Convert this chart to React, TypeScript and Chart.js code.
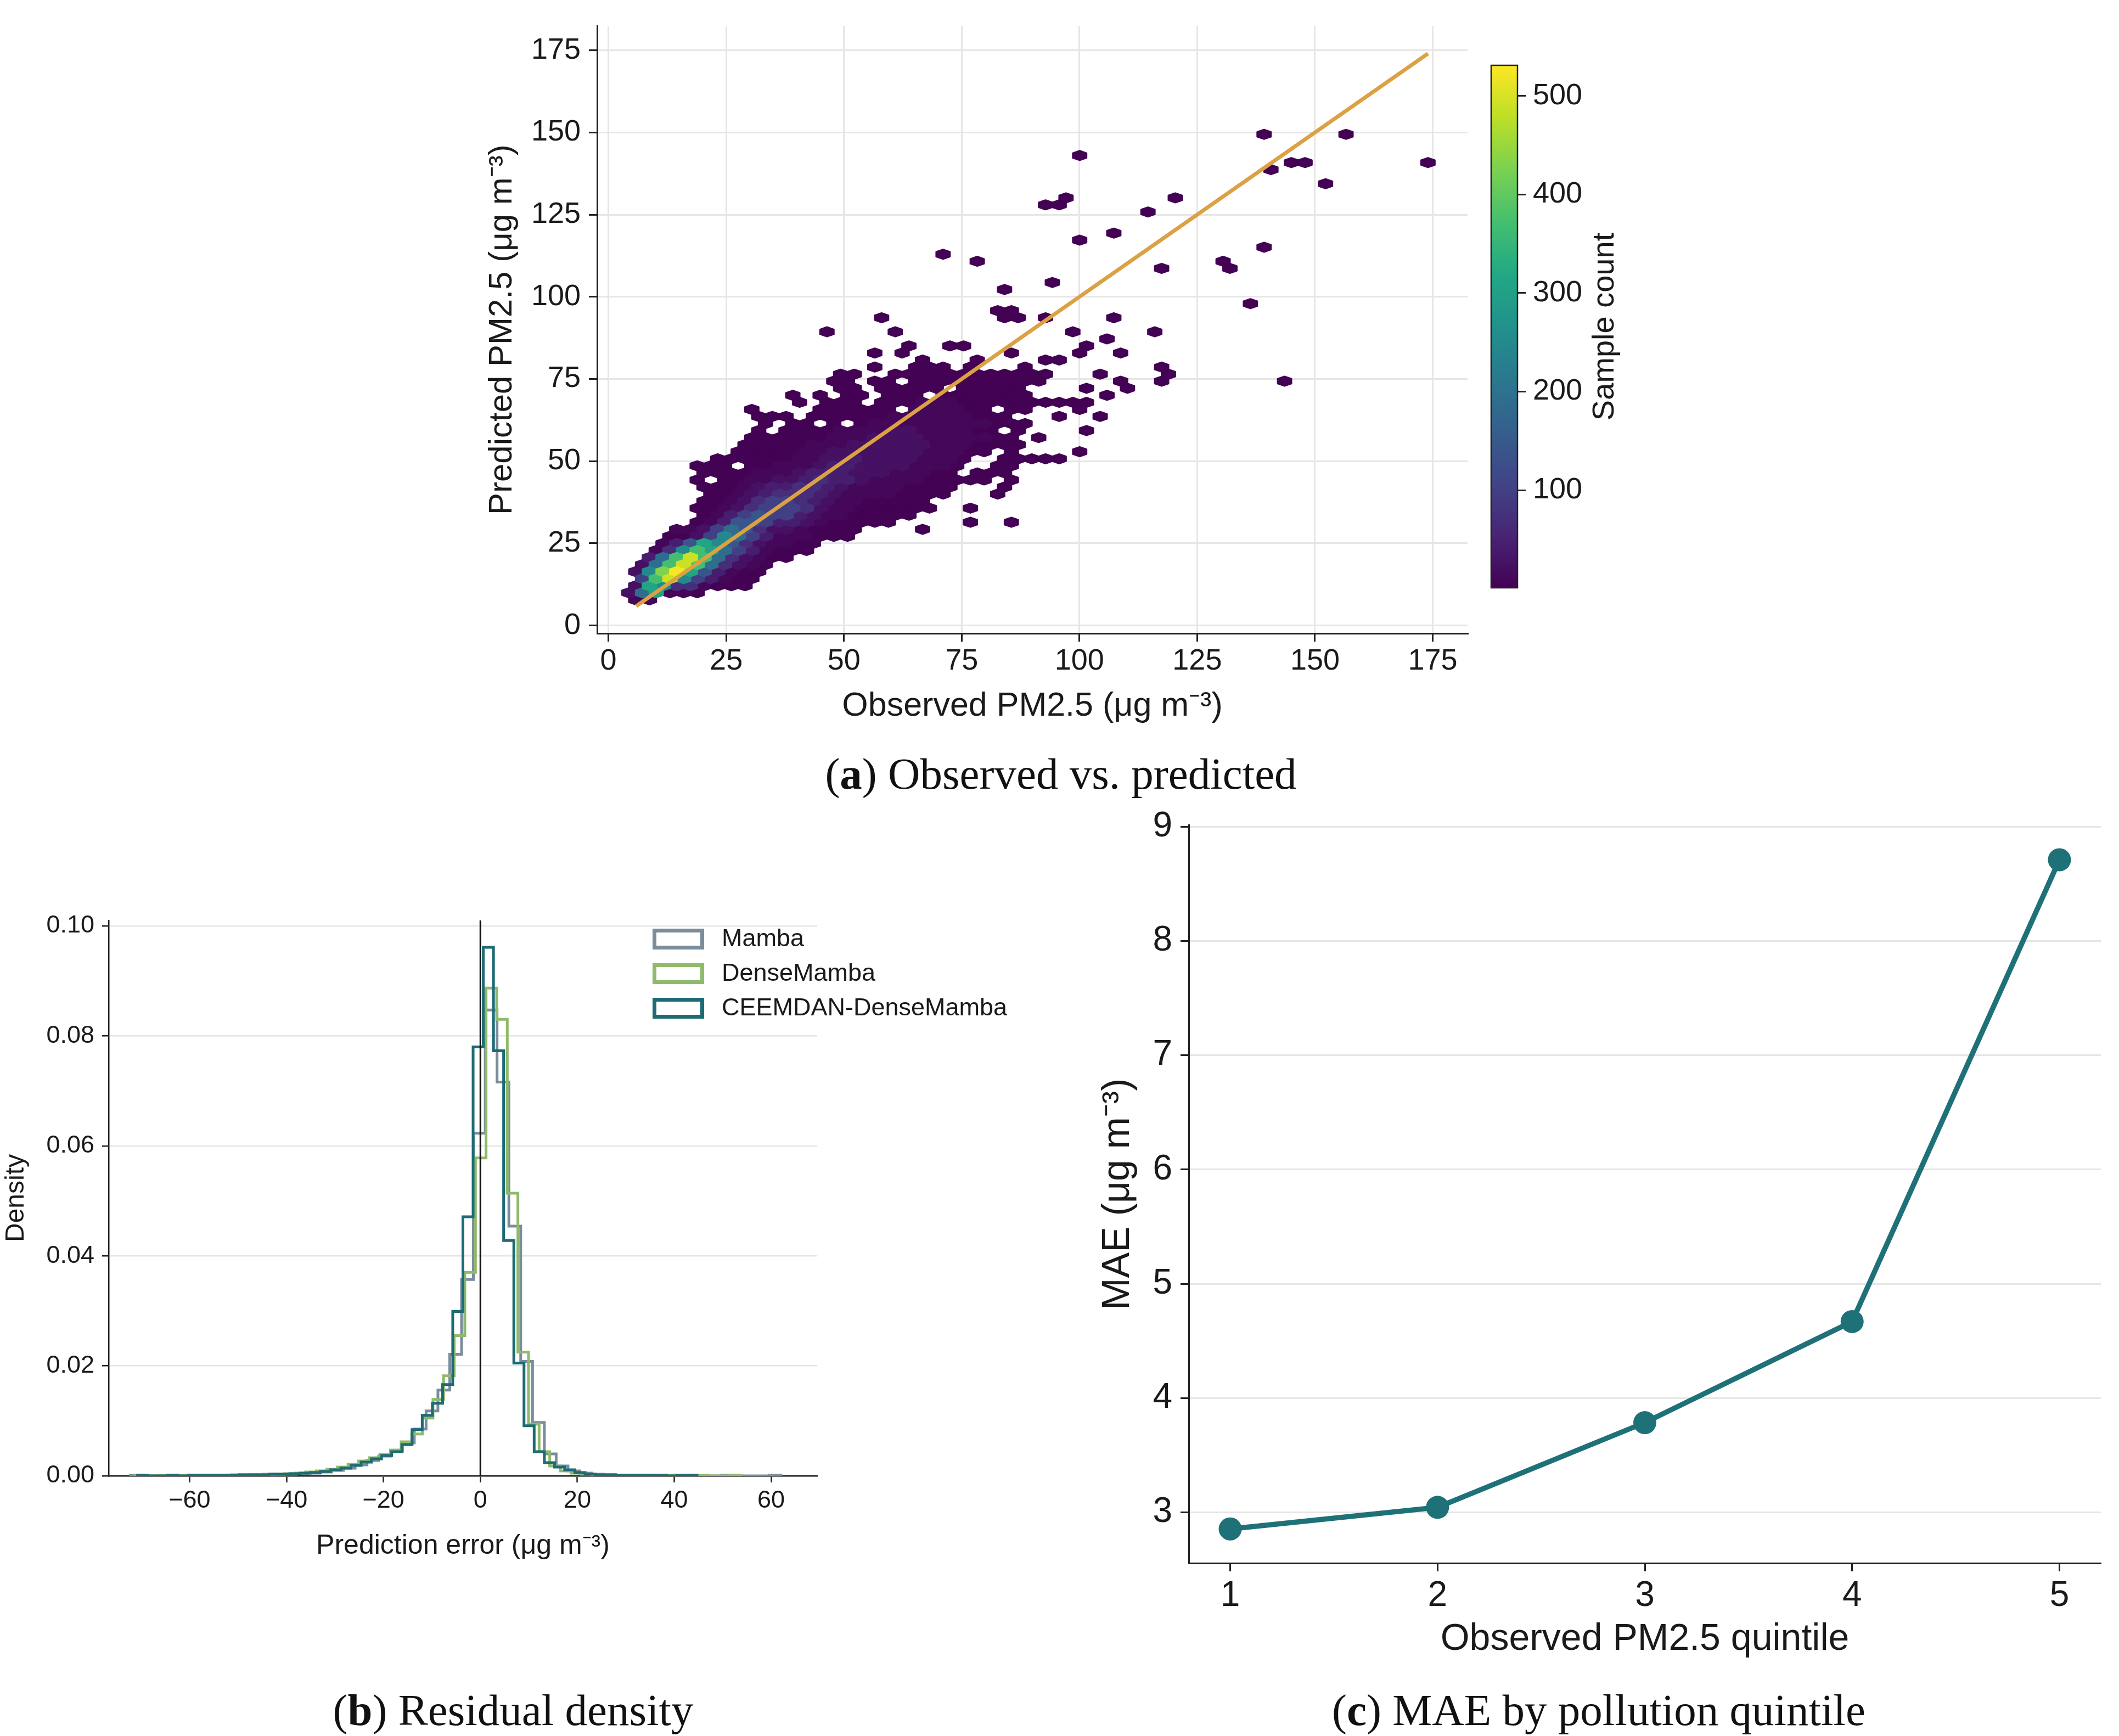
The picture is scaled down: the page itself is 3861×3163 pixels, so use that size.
import React, { useEffect, useRef } from "react";
import { Chart, registerables } from "chart.js";

Chart.register(...registerables);

// ---------------- Panel (a): hexbin of observed vs predicted ----------------
const A_TICKS = [0, 25, 50, 75, 100, 125, 150, 175];
const A_MIN = -2.4;
const A_MAX = 182.4;
const DIAG_RANGE = [5.9, 174];
// hex lattice (data units): even rows at HEX_DX * n, odd rows shifted by half a column
const HEX_X0 = 0;
const HEX_DX = 2.9;
const HEX_Y0 = 7.8;
const HEX_DY = 2.146;
// level code -> sample count per hexagon
const LEVEL_CODES = "123456789ABCDE";
const LEVEL_COUNTS = [2, 10, 25, 45, 70, 100, 140, 190, 250, 310, 370, 430, 490, 525];
// [row j, first column n, level string ('.' = empty)]
const HEX_ROWS: [number, number, string][] = [
  [0, 2, "22"],
  [1, 1, "38A221"],
  [2, 2, "3A9552111"],
  [3, 2, "6BD964211"],
  [4, 2, "39CEA74211"],
  [5, 2, "38BDB85321"],
  [6, 3, "48BDB853211"],
  [7, 3, "259BA8642111"],
  [8, 4, "247A97532211"],
  [9, 4, "11369864222111"],
  [10, 5, "22368753321111....1"],
  [11, 6, "124776443211111.....1..1"],
  [12, 7, "1246766432211111"],
  [13, 6, "112356665322111111..1"],
  [14, 7, "11235665432211111"],
  [15, 7, "112345554322221111...1"],
  [16, 7, "1112344554322221111...1"],
  [17, 6, "1.11223345443222211111.1"],
  [18, 7, "1111222344433322211.111"],
  [19, 6, "111.1122234433332221..11"],
  [20, 8, "1111112233433332221..11111"],
  [21, 9, "1111122333333322211.1....1"],
  [22, 10, "111112223333332221111"],
  [23, 10, "11111122233332222211.1"],
  [24, 11, "1.1111222233222211.1....1"],
  [25, 11, "1.11.1.1222222222111"],
  [26, 11, "111.111111222222111...1..1"],
  [27, 10, "1....111111.222211.11...1"],
  [28, 14, "1.111.1112221111111111"],
  [29, 13, "1.1.11.111.1111111.....1"],
  [30, 17, "11.11111.11111....1..1"],
  [31, 16, "11.11.1111111111.....1..1........1"],
  [32, 17, "11..111111111111...1....1"],
  [33, 19, "1..111.1...1.........1"],
  [34, 23, "1...1....11"],
  [35, 19, "1.1.......1....1..1"],
  [36, 22, "1..11........1"],
  [37, 36, "1"],
  [38, 16, "1....1............1.....1"],
  [40, 20, "1........11.1....1"],
  [41, 28, "11"],
  [42, 47, "1"],
  [44, 29, "1"],
  [45, 32, "1"],
  [47, 40, "1....1"],
  [48, 27, "1.................1"],
  [49, 24, "1"],
  [50, 48, "1"],
  [51, 34, "1"],
  [52, 37, "1"],
  [55, 39, "1"],
  [56, 32, "11"],
  [57, 33, "1.......1"],
  [59, 52, "1"],
  [61, 48, "1"],
  [62, 50, "11........1"],
  [63, 34, "1"],
  [66, 48, "1.....1"],
];
const CB_MIN = 1;
const CB_MAX = 531;
const CB_TICKS = [100, 200, 300, 400, 500];

// ---------------- Panel (b): residual density histograms ----------------
const B_X_TICKS = [-60, -40, -20, 0, 20, 40, 60];
const B_Y_TICKS = [0, 0.02, 0.04, 0.06, 0.08, 0.1];
const B_X_MIN = -76.7;
const B_X_MAX = 69.5;
const B_Y_MAX = 0.101;
const LEGEND_ORDER = ["Mamba", "DenseMamba", "CEEMDAN-DenseMamba"];

const MAMBA_START = -72.2;
const MAMBA_WIDTH = 2.44;
const MAMBA_DENS = [
  0.0001, 0, 0, 0.0001, 0, 0.0001, 0.0001, 0.0001, 0.0001, 0.0001,
  0.0002, 0.0002, 0.0003, 0.0003, 0.0004, 0.0005, 0.0007, 0.001, 0.0014, 0.002,
  0.0028, 0.0036, 0.0045, 0.006, 0.0085, 0.0118, 0.0156, 0.0221, 0.0357, 0.0623,
  0.0847, 0.0716, 0.0454, 0.0208, 0.0097, 0.004, 0.0018, 0.0009, 0.0005, 0.0003,
  0.0002, 0.0001, 0.0001, 0.0001, 0, 0.0001, 0, 0.0001, 0, 0,
  0.0001, 0, 0, 0, 0.0001,
];

const DENSE_START = -71.1;
const DENSE_WIDTH = 2.19;
const DENSE_DENS = [
  0.0001, 0, 0.0001, 0, 0.0001, 0.0001, 0.0001, 0.0001, 0.0001, 0.0002,
  0.0002, 0.0002, 0.0003, 0.0003, 0.0004, 0.0005, 0.0007, 0.0009, 0.0012, 0.0016,
  0.0021, 0.0027, 0.0033, 0.0039, 0.0047, 0.0062, 0.0076, 0.0105, 0.0139, 0.0182,
  0.0255, 0.037, 0.0578, 0.0887, 0.083, 0.0514, 0.0225, 0.0094, 0.0044, 0.0018,
  0.0009, 0.0005, 0.0003, 0.0002, 0.0001, 0.0001, 0.0001, 0, 0.0001, 0,
  0.0001, 0, 0, 0.0001, 0, 0, 0.0001,
];

const CEEM_START = -70.8;
const CEEM_WIDTH = 2.1;
const CEEM_DENS = [
  0.0001, 0, 0, 0.0001, 0, 0.0001, 0.0001, 0.0001, 0.0001, 0.0001,
  0.0002, 0.0002, 0.0002, 0.0003, 0.0003, 0.0004, 0.0005, 0.0006, 0.0008, 0.0011,
  0.0014, 0.0019, 0.0025, 0.0031, 0.0037, 0.0044, 0.0057, 0.0084, 0.011, 0.0132,
  0.0166, 0.0299, 0.0471, 0.078, 0.0961, 0.0773, 0.0428, 0.0205, 0.0091, 0.0044,
  0.0024, 0.0016, 0.0011, 0.0006, 0.0003, 0.0002, 0.0002, 0.0001, 0.0001, 0.0001,
  0.0001, 0.0001, 0, 0.0001, 0.0001,
];

// ---------------- Panel (c): MAE by quintile ----------------
const QUINTILES = [1, 2, 3, 4, 5];
const MAE = [2.856, 3.045, 3.786, 4.67, 8.71];
const C_Y_TICKS = [3, 4, 5, 6, 7, 8, 9];
const C_X_MIN = 0.8;
const C_X_MAX = 5.2;
const C_Y_MIN = 2.557;
const C_Y_MAX = 9.013;

// ---------------- styling ----------------
const SANS = "'Liberation Sans', Arial, Helvetica, sans-serif";
const SERIF = "'Liberation Serif', 'Times New Roman', serif";
const GRID = "#e6e6e6";
const AXIS = "#222222";
const TXT = "#1a1a1a";
const DIAG_COLOR = "#dba143";
const MAMBA_COLOR = "#7a8d9c";
const DENSE_COLOR = "#8fba6c";
const CEEM_COLOR = "#1d6b75";
const MAE_COLOR = "#1f7178";
const VIRIDIS = ["#440154", "#482475", "#414487", "#355f8d", "#2a788e", "#21918c", "#22a884", "#44bf70", "#7ad151", "#bddf26", "#fde725"];

function hexToRgb(h: string) {
  const n = parseInt(h.slice(1), 16);
  return [(n >> 16) & 255, (n >> 8) & 255, n & 255];
}
function viridis(t: number) {
  const tt = Math.min(1, Math.max(0, t)) * (VIRIDIS.length - 1);
  const k = Math.min(VIRIDIS.length - 2, Math.floor(tt));
  const f = tt - k;
  const a = hexToRgb(VIRIDIS[k]);
  const b = hexToRgb(VIRIDIS[k + 1]);
  const c = a.map((v, i) => Math.round(v + (b[i] - v) * f));
  return `rgb(${c[0]},${c[1]},${c[2]})`;
}

function buildHexPoints() {
  const pts: { x: number; y: number; c: number }[] = [];
  for (const [j, i0, s] of HEX_ROWS) {
    for (let k = 0; k < s.length; k++) {
      const ch = s[k];
      if (ch === ".") continue;
      const i = i0 + k;
      pts.push({
        x: HEX_X0 + (i + (j % 2) * 0.5) * HEX_DX,
        y: HEX_Y0 + j * HEX_DY,
        c: LEVEL_COUNTS[LEVEL_CODES.indexOf(ch)],
      });
    }
  }
  return pts.sort((a, b) => a.c - b.c);
}

function stepData(start: number, width: number, dens: number[]) {
  const pts = [{ x: start, y: 0 }];
  dens.forEach((d, k) => pts.push({ x: start + (k + 1) * width, y: d }));
  pts.push({ x: start + dens.length * width, y: 0 });
  return pts;
}

const setTicks = (vals: number[]) => (s: any) => {
  s.ticks = vals.map((v) => ({ value: v }));
};

const HEX_VERTS = [[0.5, -0.5], [0.5, 0.5], [0, 1], [-0.5, 0.5], [-0.5, -0.5], [0, -1]];

const hexPlugin = {
  id: "hexbin",
  beforeDatasetsDraw(chart: any) {
    const { ctx, chartArea, scales } = chart;
    const xs = scales.x;
    const ys = scales.y;
    const pts = chart.data.datasets[0].data;
    ctx.save();
    ctx.beginPath();
    ctx.rect(chartArea.left, chartArea.top, chartArea.right - chartArea.left, chartArea.bottom - chartArea.top);
    ctx.clip();
    const vy = (2 * HEX_DY) / 3;
    for (const p of pts) {
      ctx.beginPath();
      HEX_VERTS.forEach(([a, b], k) => {
        const px = xs.getPixelForValue(p.x + a * HEX_DX);
        const py = ys.getPixelForValue(p.y + b * vy);
        if (k === 0) ctx.moveTo(px, py);
        else ctx.lineTo(px, py);
      });
      ctx.closePath();
      const col = viridis((p.c - CB_MIN) / (CB_MAX - CB_MIN));
      ctx.fillStyle = col;
      ctx.strokeStyle = col;
      ctx.lineWidth = 3;
      ctx.lineJoin = "round";
      ctx.fill();
      ctx.stroke();
    }
    ctx.restore();
  },
};

const colorbarPlugin = {
  id: "colorbar",
  beforeDatasetsDraw(chart: any) {
    const { ctx, chartArea: a } = chart;
    const g = ctx.createLinearGradient(0, a.bottom, 0, a.top);
    VIRIDIS.forEach((c, k) => g.addColorStop(k / (VIRIDIS.length - 1), c));
    ctx.save();
    ctx.fillStyle = g;
    ctx.fillRect(a.left, a.top, a.right - a.left, a.bottom - a.top);
    ctx.strokeStyle = AXIS;
    ctx.lineWidth = 2.5;
    ctx.strokeRect(a.left, a.top, a.right - a.left, a.bottom - a.top);
    ctx.translate(325, 595);
    ctx.rotate(-Math.PI / 2);
    ctx.fillStyle = TXT;
    ctx.font = `56px ${SANS}`;
    ctx.textAlign = "center";
    ctx.textBaseline = "middle";
    ctx.fillText("Sample count", 0, 0);
    ctx.restore();
  },
};

const zeroLinePlugin = {
  id: "zeroLine",
  afterDatasetsDraw(chart: any) {
    const { ctx, chartArea: a, scales } = chart;
    const x = scales.x.getPixelForValue(0);
    ctx.save();
    ctx.strokeStyle = "#111111";
    ctx.lineWidth = 3;
    ctx.beginPath();
    ctx.moveTo(x, a.top);
    ctx.lineTo(x, a.bottom);
    ctx.stroke();
    ctx.restore();
  },
};

const stepLegendPlugin = {
  id: "stepLegend",
  afterDraw(chart: any) {
    const { ctx } = chart;
    ctx.save();
    LEGEND_ORDER.forEach((label, k) => {
      const ds = chart.data.datasets.find((d: any) => d.label === label);
      const cy = 211 + k * 63;
      ctx.fillStyle = "#ffffff";
      ctx.fillRect(1189, cy - 19, 94, 38);
      ctx.strokeStyle = ds.borderColor;
      ctx.lineWidth = 7;
      ctx.strokeRect(1192.5, cy - 15.5, 87, 31);
      ctx.fillStyle = TXT;
      ctx.font = `45px ${SANS}`;
      ctx.textAlign = "left";
      ctx.textBaseline = "middle";
      ctx.fillText(label, 1315, cy + 1);
    });
    ctx.restore();
  },
};

const baseOptions = {
  responsive: false,
  animation: false as const,
  devicePixelRatio: 1,
  events: [] as any[],
};

function makePanelA(): any {
  return {
    type: "scatter",
    data: {
      datasets: [
        { label: "hex", data: buildHexPoints(), pointRadius: 0, pointHoverRadius: 0, showLine: false },
        {
          label: "1:1",
          data: DIAG_RANGE.map((v) => ({ x: v, y: v })),
          showLine: true,
          borderColor: DIAG_COLOR,
          borderWidth: 7,
          pointRadius: 0,
          fill: false,
        },
      ],
    },
    options: {
      ...baseOptions,
      layout: { padding: { left: 0, right: 26, top: 41, bottom: 0 } },
      plugins: { legend: { display: false }, tooltip: { enabled: false } },
      scales: {
        x: {
          type: "linear",
          min: A_MIN,
          max: A_MAX,
          afterBuildTicks: setTicks(A_TICKS),
          afterFit: (s: any) => { s.height = 186; },
          grid: { color: GRID, lineWidth: 3, tickLength: 15, tickColor: AXIS, tickWidth: 3 },
          border: { color: AXIS, width: 3 },
          ticks: { font: { size: 54, family: SANS }, color: TXT, padding: 4, maxRotation: 0, autoSkip: false },
          title: { display: true, text: "Observed PM2.5 (\u03bcg m\u207b\u00b3)", font: { size: 61, family: SANS }, color: TXT, padding: { top: 0, bottom: 16 } },
        },
        y: {
          type: "linear",
          min: A_MIN,
          max: A_MAX,
          afterBuildTicks: setTicks(A_TICKS),
          afterFit: (s: any) => { s.width = 288; },
          grid: { color: GRID, lineWidth: 3, tickLength: 15, tickColor: AXIS, tickWidth: 3 },
          border: { color: AXIS, width: 3 },
          ticks: { font: { size: 54, family: SANS }, color: TXT, padding: 15, autoSkip: false },
          title: { display: true, text: "Predicted PM2.5 (\u03bcg m\u207b\u00b3)", font: { size: 60, family: SANS }, color: TXT, padding: { top: 79, bottom: 0 } },
        },
      },
    },
    plugins: [hexPlugin],
  };
}

function makeColorbar(): any {
  return {
    type: "scatter",
    data: { datasets: [] },
    options: {
      ...baseOptions,
      layout: { padding: { left: 117, right: 35, top: 119, bottom: 269 } },
      plugins: { legend: { display: false }, tooltip: { enabled: false } },
      scales: {
        x: { display: false, min: 0, max: 1 },
        y: {
          position: "right",
          min: CB_MIN,
          max: CB_MAX,
          afterBuildTicks: setTicks(CB_TICKS),
          afterFit: (s: any) => { s.width = 200; },
          grid: { drawOnChartArea: false, tickLength: 15, tickColor: AXIS, tickWidth: 3 },
          border: { display: false },
          ticks: { font: { size: 54, family: SANS }, color: TXT, padding: 13 },
        },
      },
    },
    plugins: [colorbarPlugin],
  };
}

function makePanelB(): any {
  const mk = (label: string, color: string, start: number, w: number, dens: number[], order: number) => ({
    label,
    data: stepData(start, w, dens),
    borderColor: color,
    backgroundColor: color,
    borderWidth: 5,
    stepped: "after",
    pointRadius: 0,
    fill: false,
    order,
  });
  return {
    type: "line",
    data: {
      datasets: [
        mk("Mamba", MAMBA_COLOR, MAMBA_START, MAMBA_WIDTH, MAMBA_DENS, 2),
        mk("DenseMamba", DENSE_COLOR, DENSE_START, DENSE_WIDTH, DENSE_DENS, 1),
        mk("CEEMDAN-DenseMamba", CEEM_COLOR, CEEM_START, CEEM_WIDTH, CEEM_DENS, 0),
      ],
    },
    options: {
      ...baseOptions,
      layout: { padding: { left: 0, right: 411, top: 177, bottom: 0 } },
      plugins: { legend: { display: false }, tooltip: { enabled: false } },
      scales: {
        x: {
          type: "linear",
          min: B_X_MIN,
          max: B_X_MAX,
          afterBuildTicks: setTicks(B_X_TICKS),
          afterFit: (s: any) => { s.height = 211; },
          grid: { drawOnChartArea: false, tickLength: 12, tickColor: AXIS, tickWidth: 2.5 },
          border: { color: AXIS, width: 2.5 },
          ticks: {
            font: { size: 45, family: SANS },
            color: TXT,
            padding: 7,
            maxRotation: 0,
            autoSkip: false,
            callback: (v: any) => (v < 0 ? "\u2212" + Math.abs(v) : String(v)),
          },
          title: { display: true, text: "Prediction error (\u03bcg m\u207b\u00b3)", font: { size: 50, family: SANS }, color: TXT, padding: { top: 0, bottom: 53 } },
        },
        y: {
          type: "linear",
          min: 0,
          max: B_Y_MAX,
          afterBuildTicks: setTicks(B_Y_TICKS),
          afterFit: (s: any) => { s.width = 198; },
          grid: { color: GRID, lineWidth: 2.5, tickLength: 12, tickColor: AXIS, tickWidth: 2.5 },
          border: { color: AXIS, width: 2.5 },
          ticks: { font: { size: 45, family: SANS }, color: TXT, padding: 14, callback: (v: any) => Number(v).toFixed(2) },
          title: { display: true, text: "Density", font: { size: 48, family: SANS }, color: TXT, padding: { top: 1, bottom: 0 } },
        },
      },
    },
    plugins: [zeroLinePlugin, stepLegendPlugin],
  };
}

function makePanelC(): any {
  return {
    type: "line",
    data: {
      datasets: [
        {
          label: "MAE",
          data: QUINTILES.map((q, i) => ({ x: q, y: MAE[i] })),
          borderColor: MAE_COLOR,
          backgroundColor: MAE_COLOR,
          pointBackgroundColor: MAE_COLOR,
          pointBorderColor: MAE_COLOR,
          borderWidth: 9.5,
          pointRadius: 21,
          pointBorderWidth: 0,
          fill: false,
          tension: 0,
        },
      ],
    },
    options: {
      ...baseOptions,
      layout: { padding: { left: 0, right: 33, top: 51, bottom: 0 } },
      plugins: { legend: { display: false }, tooltip: { enabled: false } },
      scales: {
        x: {
          type: "linear",
          min: C_X_MIN,
          max: C_X_MAX,
          afterBuildTicks: setTicks(QUINTILES),
          afterFit: (s: any) => { s.height = 222; },
          grid: { drawOnChartArea: false, tickLength: 15, tickColor: AXIS, tickWidth: 3 },
          border: { color: AXIS, width: 3 },
          ticks: { font: { size: 64, family: SANS }, color: TXT, padding: 7, maxRotation: 0, autoSkip: false },
          title: { display: true, text: "Observed PM2.5 quintile", font: { size: 68, family: SANS }, color: TXT, padding: { top: 0, bottom: 42 } },
        },
        y: {
          type: "linear",
          min: C_Y_MIN,
          max: C_Y_MAX,
          afterBuildTicks: setTicks(C_Y_TICKS),
          afterFit: (s: any) => { s.width = 216; },
          grid: { color: GRID, lineWidth: 3, tickLength: 15, tickColor: AXIS, tickWidth: 3 },
          border: { color: AXIS, width: 3 },
          ticks: { font: { size: 64, family: SANS }, color: TXT, padding: 15, autoSkip: false },
          title: { display: true, text: "MAE (\u03bcg m\u207b\u00b3)", font: { size: 70, family: SANS }, color: TXT, padding: { top: 46, bottom: 0 } },
        },
      },
    },
  };
}

function ChartCanvas(props: { left: number; top: number; width: number; height: number; make: () => any }) {
  const ref = useRef<HTMLCanvasElement>(null);
  useEffect(() => {
    const chart = new Chart(ref.current as HTMLCanvasElement, props.make());
    return () => chart.destroy();
  }, []);
  const { left, top, width, height } = props;
  return (
    <canvas
      ref={ref}
      width={width}
      height={height}
      style={{ position: "absolute", left, top, width, height }}
    />
  );
}

function Caption(props: { cx: number; cy: number; letter: string; text: string }) {
  return (
    <div
      style={{
        position: "absolute",
        left: props.cx,
        top: props.cy,
        transform: "translate(-50%, -50%)",
        whiteSpace: "nowrap",
        fontFamily: SERIF,
        fontSize: 81,
        lineHeight: 1,
        color: "#111",
      }}
    >
      (<b>{props.letter}</b>) {props.text}
    </div>
  );
}

export default function App() {
  return (
    <div style={{ position: "absolute", left: 0, top: 0, width: 3861, height: 3163, background: "#ffffff", overflow: "hidden" }}>
      <ChartCanvas left={800} top={0} width={1900} height={1340} make={makePanelA} />
      <ChartCanvas left={2600} top={0} width={400} height={1340} make={makeColorbar} />
      <ChartCanvas left={0} top={1500} width={1900} height={1400} make={makePanelB} />
      <ChartCanvas left={1950} top={1450} width={1911} height={1620} make={makePanelC} />
      <Caption cx={1933} cy={1410} letter="a" text="Observed vs. predicted" />
      <Caption cx={935} cy={3116} letter="b" text="Residual density" />
      <Caption cx={2913} cy={3116} letter="c" text="MAE by pollution quintile" />
    </div>
  );
}
